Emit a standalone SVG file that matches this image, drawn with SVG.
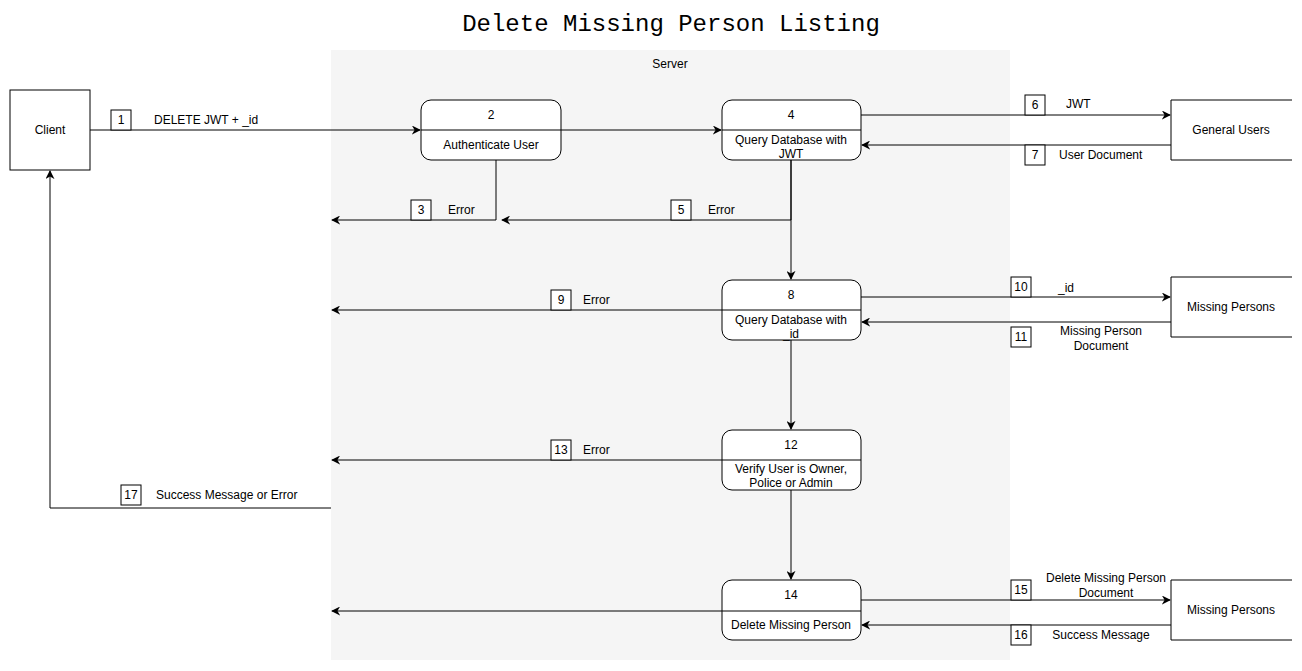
<svg xmlns="http://www.w3.org/2000/svg" width="1302" height="671" viewBox="0 0 1302 671">
<style>
text{font-family:"Liberation Sans",Arial,sans-serif;font-size:12px;fill:#000}
.c{text-anchor:middle}
.box{fill:#fff;stroke:#000;stroke-width:1}
.proc{fill:#fff;stroke:#000;stroke-width:1}
.ln{fill:none;stroke:#000;stroke-width:1}
.lbl{fill:#fff;stroke:#000;stroke-width:1}
.title{font-family:"Liberation Mono","Courier New",monospace;font-size:24px}
</style>
<defs>
<marker id="ah" viewBox="0 0 10 10" refX="9" refY="5" markerWidth="9" markerHeight="9" markerUnits="userSpaceOnUse" orient="auto">
<path d="M0,0 L10,5 L0,10 L3,5 Z" fill="#000"/>
</marker>
</defs>
<rect width="1302" height="671" fill="#fff"/>
<text class="title c" x="671" y="31">Delete Missing Person Listing</text>
<g id="server">
<rect x="331" y="50" width="679" height="610" fill="#f5f5f5"/>
<text class="c" x="670" y="68" fill="#333">Server</text>
</g>
<g id="connectors">
<path class="ln" d="M90,130 H420" marker-end="url(#ah)"/>
<path class="ln" d="M561,130 H721" marker-end="url(#ah)"/>
<path class="ln" d="M861,115 H1170" marker-end="url(#ah)"/>
<path class="ln" d="M1171,145 H862" marker-end="url(#ah)"/>
<path class="ln" d="M496,160 V220 H332" marker-end="url(#ah)"/>
<path class="ln" d="M791,160 V220 H502" marker-end="url(#ah)"/>
<path class="ln" d="M791,160 V279" marker-end="url(#ah)"/>
<path class="ln" d="M722,310 H332" marker-end="url(#ah)"/>
<path class="ln" d="M861,297 H1170" marker-end="url(#ah)"/>
<path class="ln" d="M1171,322 H862" marker-end="url(#ah)"/>
<path class="ln" d="M791,340 V429" marker-end="url(#ah)"/>
<path class="ln" d="M722,460 H332" marker-end="url(#ah)"/>
<path class="ln" d="M791,490 V579" marker-end="url(#ah)"/>
<path class="ln" d="M722,611 H332" marker-end="url(#ah)"/>
<path class="ln" d="M861,600 H1170" marker-end="url(#ah)"/>
<path class="ln" d="M1171,625 H862" marker-end="url(#ah)"/>
<path class="ln" d="M331,508 H50 V171" marker-end="url(#ah)"/>
</g>
<g id="labels">
<rect class="lbl" x="111" y="110" width="20" height="20"/><text class="c" x="121" y="124">1</text>
<text x="154" y="124">DELETE JWT + _id</text>
<rect class="lbl" x="411" y="200" width="20" height="20"/><text class="c" x="421" y="214">3</text>
<text x="448" y="214">Error</text>
<rect class="lbl" x="671" y="200" width="20" height="20"/><text class="c" x="681" y="214">5</text>
<text x="708" y="214">Error</text>
<rect class="lbl" x="1025" y="95" width="20" height="20"/><text class="c" x="1035" y="109">6</text>
<text x="1066" y="108">JWT</text>
<rect class="lbl" x="1025" y="145" width="20" height="20"/><text class="c" x="1035" y="159">7</text>
<text x="1059" y="159">User Document</text>
<rect class="lbl" x="551" y="290" width="20" height="20"/><text class="c" x="561" y="304">9</text>
<text x="583" y="304">Error</text>
<rect class="lbl" x="1011" y="277" width="20" height="20"/><text class="c" x="1021" y="291">10</text>
<text x="1058" y="292">_id</text>
<rect class="lbl" x="1011" y="327" width="20" height="20"/><text class="c" x="1021" y="341">11</text>
<text class="c" x="1101" y="335">Missing Person</text>
<text class="c" x="1101" y="350">Document</text>
<rect class="lbl" x="551" y="440" width="20" height="20"/><text class="c" x="561" y="454">13</text>
<text x="583" y="454">Error</text>
<rect class="lbl" x="121" y="485" width="20" height="20"/><text class="c" x="131" y="499">17</text>
<text x="156" y="499">Success Message or Error</text>
<rect class="lbl" x="1011" y="580" width="20" height="20"/><text class="c" x="1021" y="594">15</text>
<text class="c" x="1106" y="582">Delete Missing Person</text>
<text class="c" x="1106" y="597">Document</text>
<rect class="lbl" x="1011" y="625" width="20" height="20"/><text class="c" x="1021" y="639">16</text>
<text class="c" x="1101" y="639">Success Message</text>
</g>
<g id="client">
<rect class="box" x="10" y="90" width="80" height="80"/>
<text class="c" x="50" y="134">Client</text>
</g>
<g id="node2">
<rect class="proc" x="421" y="100" width="140" height="60" rx="10"/>
<line class="ln" x1="421" y1="130" x2="561" y2="130"/>
<text class="c" x="491" y="119">2</text>
<text class="c" x="491" y="149">Authenticate User</text>
</g>
<g id="node4">
<rect class="proc" x="722" y="100" width="139" height="60" rx="10"/>
<line class="ln" x1="722" y1="130" x2="861" y2="130"/>
<text class="c" x="791" y="119">4</text>
<text class="c" x="791" y="144">Query Database with</text>
<text class="c" x="791" y="158">JWT</text>
</g>
<g id="generalUsers">
<path class="box" d="M1292,100 H1171 V160 H1292"/>
<text class="c" x="1231" y="134">General Users</text>
</g>
<g id="node8">
<rect class="proc" x="722" y="280" width="139" height="60" rx="10"/>
<line class="ln" x1="722" y1="310" x2="861" y2="310"/>
<text class="c" x="791" y="299">8</text>
<text class="c" x="791" y="324">Query Database with</text>
<text class="c" x="791" y="338">_id</text>
</g>
<g id="missingPersons1">
<path class="box" d="M1292,277 H1171 V337 H1292"/>
<text class="c" x="1231" y="311">Missing Persons</text>
</g>
<g id="node12">
<rect class="proc" x="722" y="430" width="139" height="60" rx="10"/>
<line class="ln" x1="722" y1="460" x2="861" y2="460"/>
<text class="c" x="791" y="449">12</text>
<text class="c" x="791" y="473">Verify User is Owner,</text>
<text class="c" x="791" y="487">Police or Admin</text>
</g>
<g id="node14">
<rect class="proc" x="722" y="580" width="139" height="60" rx="10"/>
<line class="ln" x1="722" y1="611" x2="861" y2="611"/>
<text class="c" x="791" y="599">14</text>
<text class="c" x="791" y="629">Delete Missing Person</text>
</g>
<g id="missingPersons2">
<path class="box" d="M1292,580 H1171 V640 H1292"/>
<text class="c" x="1231" y="614">Missing Persons</text>
</g>
</svg>
